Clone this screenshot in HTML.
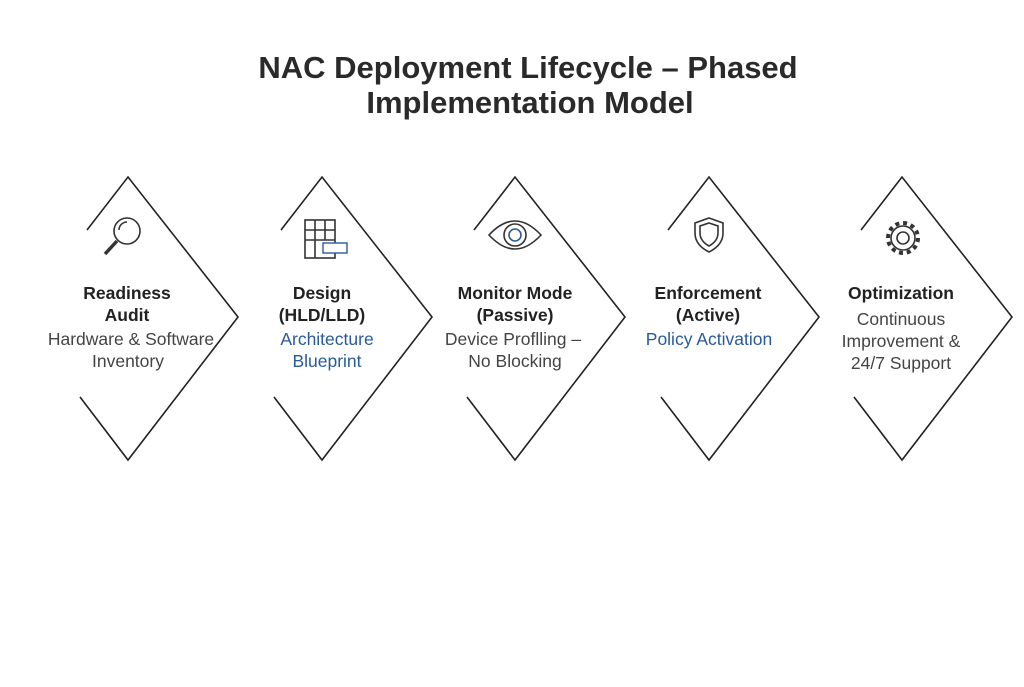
<!DOCTYPE html>
<html><head><meta charset="utf-8"><style>
body{margin:0;background:#fff;width:1024px;height:682px;overflow:hidden}
</style></head><body>
<svg width="1024" height="682" viewBox="0 0 1024 682" xmlns="http://www.w3.org/2000/svg" font-family="Liberation Sans, sans-serif">
<text x="528" y="78" text-anchor="middle" font-size="31" font-weight="bold" fill="#2a2a2a">NAC Deployment Lifecycle – Phased</text>
<text x="530" y="113" text-anchor="middle" font-size="31" font-weight="bold" fill="#2a2a2a">Implementation Model</text>
<g stroke="#222" stroke-width="1.6" fill="none">
<g id="s"><polyline points="87,230 128,177 238,317 128,460 80,397"/></g>
<use href="#s" x="194"/><use href="#s" x="387"/><use href="#s" x="581"/><use href="#s" x="774"/>
</g>
<g stroke="#333" stroke-width="1.6" fill="none">
<circle cx="127" cy="231" r="13"/><path d="M119 230a8 8 0 0 1 8-8"/><path d="M117 241l-12 13" stroke-width="3.5"/>
<rect x="305" y="220" width="30" height="38"/><path d="M305 230h30M305 240h30M315 220v38M325 220v20"/>
<path d="M489 235q26-28 52 0q-26 28-52 0z"/><circle cx="515" cy="235" r="11"/>
<path d="M709 218l14 5v10q0 12-14 19q-14-7-14-19v-10z"/><path d="M709 223l9 3v7q0 8-9 13q-9-5-9-13v-7z"/>
<circle cx="903" cy="238" r="6"/><circle cx="903" cy="238" r="12"/><circle cx="903" cy="238" r="15" stroke-dasharray="4 3.85" stroke-width="4"/>
</g>
<rect x="323" y="243" width="24" height="10" fill="#fff" stroke="#2a5a9a" stroke-width="1.4"/>
<circle cx="515" cy="235" r="6" fill="none" stroke="#2a5a9a" stroke-width="1.6"/>
<g text-anchor="middle">
<g font-weight="bold" fill="#222" font-size="17.5">
<text x="127" y="299">Readiness</text><text x="127" y="321">Audit</text>
<text x="322" y="299">Design</text><text x="322" y="321">(HLD/LLD)</text>
<text x="515" y="299">Monitor Mode</text><text x="515" y="321">(Passive)</text>
<text x="708" y="299">Enforcement</text><text x="708" y="321">(Active)</text>
<text x="901" y="299">Optimization</text>
</g>
<g fill="#444" font-size="17.5">
<text x="131" y="345">Hardware &amp; Software</text><text x="128" y="367">Inventory</text>
<text x="513" y="345">Device Proflling –</text><text x="515" y="367">No Blocking</text>
<text x="901" y="325">Continuous</text><text x="901" y="347">Improvement &amp;</text><text x="901" y="369">24/7 Support</text>
</g>
<g fill="#2a5a9a" font-size="17.5">
<text x="327" y="345">Architecture</text><text x="327" y="367">Blueprint</text>
<text x="709" y="345">Policy Activation</text>
</g>
</g>
</svg>
</body></html>
